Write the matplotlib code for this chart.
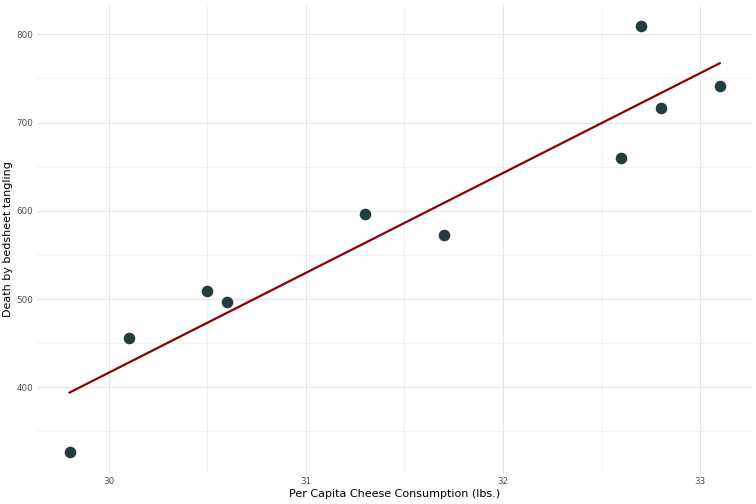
import numpy as np
import matplotlib
matplotlib.use("Agg")
import matplotlib.pyplot as plt
from matplotlib.ticker import MultipleLocator

# per capita cheese consumption (lbs.) and deaths by bedsheet tangling
cheese = [29.8, 30.1, 30.5, 30.6, 31.3, 31.7, 32.6, 32.7, 32.8, 33.1]
deaths = [327, 456, 509, 497, 596, 573, 660, 809, 717, 741]

x = np.array(cheese)
y = np.array(deaths)
slope, intercept = np.polyfit(x, y, 1)
xf = np.array([x.min(), x.max()])

fig = plt.figure(figsize=(7.56, 5.04), dpi=100)
ax = fig.add_axes([0.049, 0.0615, 0.946, 0.9285])

ax.scatter(x, y, s=70, color="#233d3f", zorder=3, linewidths=0)
ax.plot(xf, slope * xf + intercept, color="#8b0000", lw=1.6, zorder=4)

# ggplot-like 5% expansion
xr = x.max() - x.min()
yr = y.max() - y.min()
ax.set_xlim(x.min() - 0.05 * xr, x.max() + 0.05 * xr)
ax.set_ylim(y.min() - 0.05 * yr, y.max() + 0.05 * yr)

ax.xaxis.set_major_locator(MultipleLocator(1))
ax.xaxis.set_minor_locator(MultipleLocator(0.5))
ax.yaxis.set_major_locator(MultipleLocator(100))
ax.yaxis.set_minor_locator(MultipleLocator(50))
ax.grid(which="major", color="#e5e5e5", lw=0.8)
ax.grid(which="minor", color="#efefef", lw=0.6)
ax.set_axisbelow(True)
for s in ax.spines.values():
    s.set_visible(False)
ax.tick_params(which="both", length=0, labelsize=6.3, labelcolor="#4d4d4d", pad=3)

ax.set_xlabel("Per Capita Cheese Consumption (lbs.)", fontsize=8, labelpad=2)
ax.set_ylabel("Death by bedsheet tangling", fontsize=8, labelpad=2)

fig.savefig("out.png", dpi=100, facecolor="white")
